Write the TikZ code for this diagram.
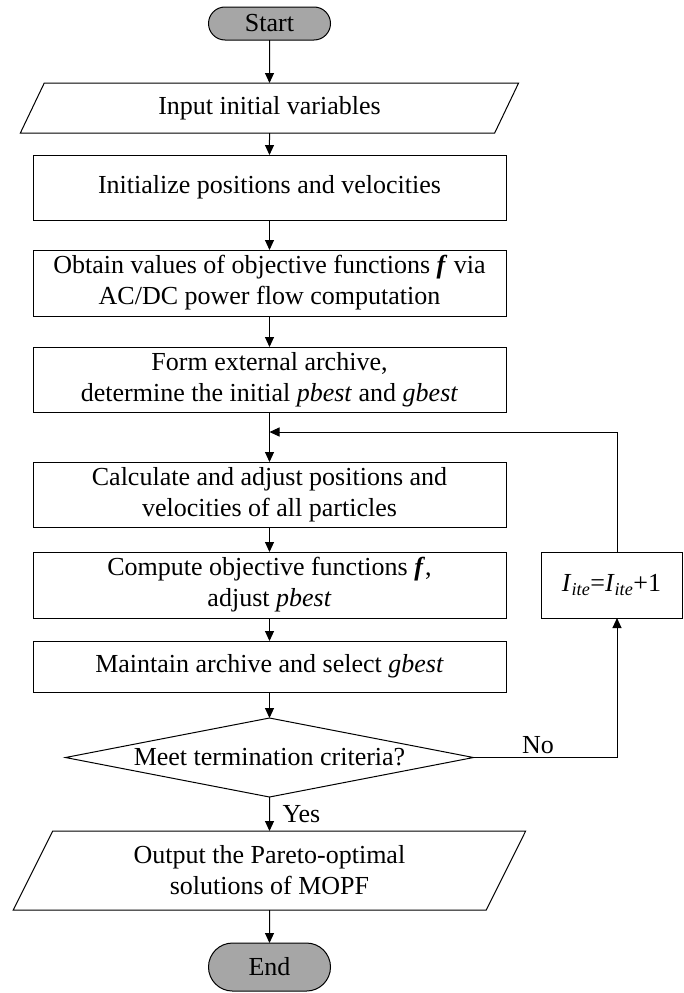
\documentclass[tikz,border=0pt]{standalone}
\usepackage{fontspec}
\setmainfont{Liberation Serif}
\usetikzlibrary{
arrows.meta,
positioning,
shapes.geometric,
shapes.misc
}
\tikzset{>={Triangle[length=10pt,width=9pt]}}

\begin{document}
\begin{tikzpicture}[x=1pt, y=-1pt, line width=1pt,
	every node/.style={font=\fontsize{26}{31}\selectfont, inner sep=0pt, outer sep=0pt},
	block/.style={draw, rectangle, minimum width=473pt, align=center},
	io/.style={draw, trapezium, trapezium left angle=63.4, trapezium right angle=116.6, trapezium stretches=true, align=center},
	term/.style={draw, rounded rectangle, fill=gray!70, minimum width=122pt},
	decision/.style={draw, diamond, minimum width=408pt, minimum height=79pt}]
		\useasboundingbox (0,0) rectangle (683,993);

		\node[term, minimum height=33pt] (start) at (269.5,23.5) {Start};
		\node[io, minimum width=499pt, minimum height=50pt, below=43pt of start] (input) {Input initial variables};
		\node[block, minimum height=65pt, below=22pt of input] (init) {Initialize positions and velocities};
		\node[block, minimum height=66pt, below=30pt of init] (obtain) {Obtain values of objective functions \textbf{\textit{f}} via\\AC/DC power flow computation};
		\node[block, minimum height=65pt, below=31pt of obtain] (form) {Form external archive,\\determine the initial \textit{pbest} and \textit{gbest}};
		\node[block, minimum height=65pt, below=50pt of form] (calc) {Calculate and adjust positions and\\velocities of all particles};
		\node[block, minimum height=66pt, below=25pt of calc] (compute) {Compute objective functions \textbf{\textit{f}},\\adjust \textit{pbest}};
		\node[block, minimum height=51pt, below=23pt of compute] (maintain) {Maintain archive and select \textit{gbest}};
		\node[decision, below=26pt of maintain, label=center:{Meet termination criteria?}] (check) {};
		\node[io, minimum width=513pt, minimum height=79pt, below=34pt of check] (output) {Output the Pareto-optimal\\solutions of MOPF};
		\node[term, minimum height=48pt, below=33pt of output] (end) {End};

		\node[draw, rectangle, minimum width=141pt, minimum height=66pt, right=35pt of compute] (iite) {\textit{I}\textsubscript{\textit{ite}}=\textit{I}\textsubscript{\textit{ite}}+1};

		% main flow
		\draw[->] (start) -- (input);
		\draw[->] (input) -- (init);
		\draw[->] (init) -- (obtain);
		\draw[->] (obtain) -- (form);
		\draw[->] (form) -- (calc);
		\draw[->] (calc) -- (compute);
		\draw[->] (compute) -- (maintain);
		\draw[->] (maintain) -- (check);
		\draw[->] (check) -- (output) node[midway, right=13pt] {Yes};
		\draw[->] (output) -- (end);

		% loop back
		\coordinate[below=20pt of form] (join);
		\coordinate (loopx) at (617,0);
		\draw[->] (check.east) -- (check.east -| loopx) node[pos=0.45, above=4pt] {No} -- (iite.south -| loopx);
		\draw[->] (iite.north -| loopx) |- (join);
	\end{tikzpicture}
\end{document}
